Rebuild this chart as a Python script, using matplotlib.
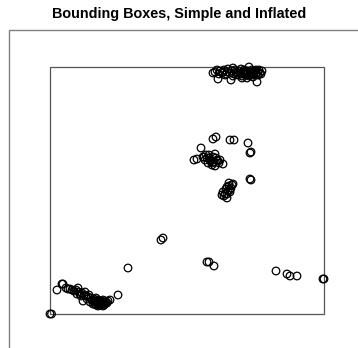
import numpy as np
import matplotlib.pyplot as plt
from matplotlib.patches import Rectangle

plt.rcParams['font.family'] = ['Liberation Sans', 'DejaVu Sans']

# point cloud
x = [165, 167, 169, 170, 172, 174, 175, 177, 178, 180, 181, 182, 184, 185, 186, 188, 189, 190,
     191, 192, 193, 194, 195, 196, 197, 198, 199, 200, 201, 202, 203, 204, 205, 206, 207, 208,
     209, 210, 212, 168, 163, 183,
     194, 196, 198, 200, 202, 204, 206, 203, 199, 195, 191, 187, 173, 176, 183, 208, 211, 192,
     163, 166, 180, 184, 198, 201, 200, 151, 144, 147, 153, 156, 159, 163, 161, 167, 165, 162,
     158, 169, 173, 155, 200, 201, 177, 182, 180, 179, 173, 172, 177, 175, 181, 178,
     157, 160, 164, 166, 168, 162, 165, 170, 159, 154,
     176, 179, 183, 174, 180, 177,
     113, 111, 78, 157, 159, 164,
     226, 237, 240, 247, 273, 274,
     0, 1.5, 7, 12, 13, 18, 28, 33, 68,
     16, 20, 22, 24, 26, 29, 30, 32, 34, 36, 38, 39, 41, 42, 44, 45, 46, 47, 48, 49, 50, 51,
     52, 53, 54, 55, 56, 58, 40, 43, 46, 48, 37, 35, 31, 27, 60,
     50, 53, 55, 57, 49, 52, 54, 45, 44]
y = [242, 244, 240, 243, 241, 244, 239, 242, 245, 241, 234, 243, 240, 244, 242, 239, 243, 241,
     245, 238, 242, 244, 240, 243, 236, 241, 247, 239, 242, 244, 237, 241, 243, 240, 232, 242,
     244, 241, 243, 235, 241, 246,
     241, 239, 243, 241, 239, 242, 244, 240, 238, 242, 240, 241, 242, 240, 238, 239, 240, 236,
     175, 177, 174, 174, 171, 162, 161, 166, 154, 155, 157, 159, 156, 157, 153, 154, 160, 149,
     151, 151, 150, 154, 135, 134, 127, 129, 124, 131, 122, 119, 116, 120, 126, 123,
     156, 154, 152, 156, 153, 151, 148, 154, 159, 157,
     125, 128, 130, 118, 122, 120,
     76, 74, 46, 52, 52, 48,
     43, 40, 38, 38, 35, 35,
     0, 0, 24, 30, 30, 25, 26, 13, 19,
     26, 25, 24, 23, 24, 22, 20, 21, 19, 18, 17, 19, 16, 14, 15, 13, 16, 12, 14, 11, 13, 10,
     12, 14, 11, 13, 12, 13, 12, 10, 9, 8, 15, 22, 18, 20, 14,
     9, 8, 10, 11, 10, 11, 9, 10, 12]

inflate = 0.15

x = np.array(x, dtype=float)
y = np.array(y, dtype=float)
x0, x1 = x.min(), x.max()
y0, y1 = y.min(), y.max()
w, h = x1 - x0, y1 - y0

fig = plt.figure(figsize=(3.58, 3.48), dpi=100)
ax = fig.add_axes([0, 0, 1, 1])
ax.set_xlim(-50, 308)
ax.set_ylim(-34, 314)
ax.axis('off')

ax.add_patch(Rectangle((x0, y0), w, h, fill=False, ec='#555555', lw=0.9))
ax.add_patch(Rectangle((x0 - inflate * w, y0 - inflate * h), w * (1 + 2 * inflate), h * (1 + 2 * inflate),
                       fill=False, ec='#808080', lw=1.0))
ax.scatter(x, y, s=30, facecolors='none', edgecolors='black', linewidths=0.9)

fig.text(0.5, 1 - 14 / 348, 'Bounding Boxes, Simple and Inflated', ha='center', va='center',
         fontsize=10.4, fontweight='bold')

plt.savefig('out.png', dpi=100)
